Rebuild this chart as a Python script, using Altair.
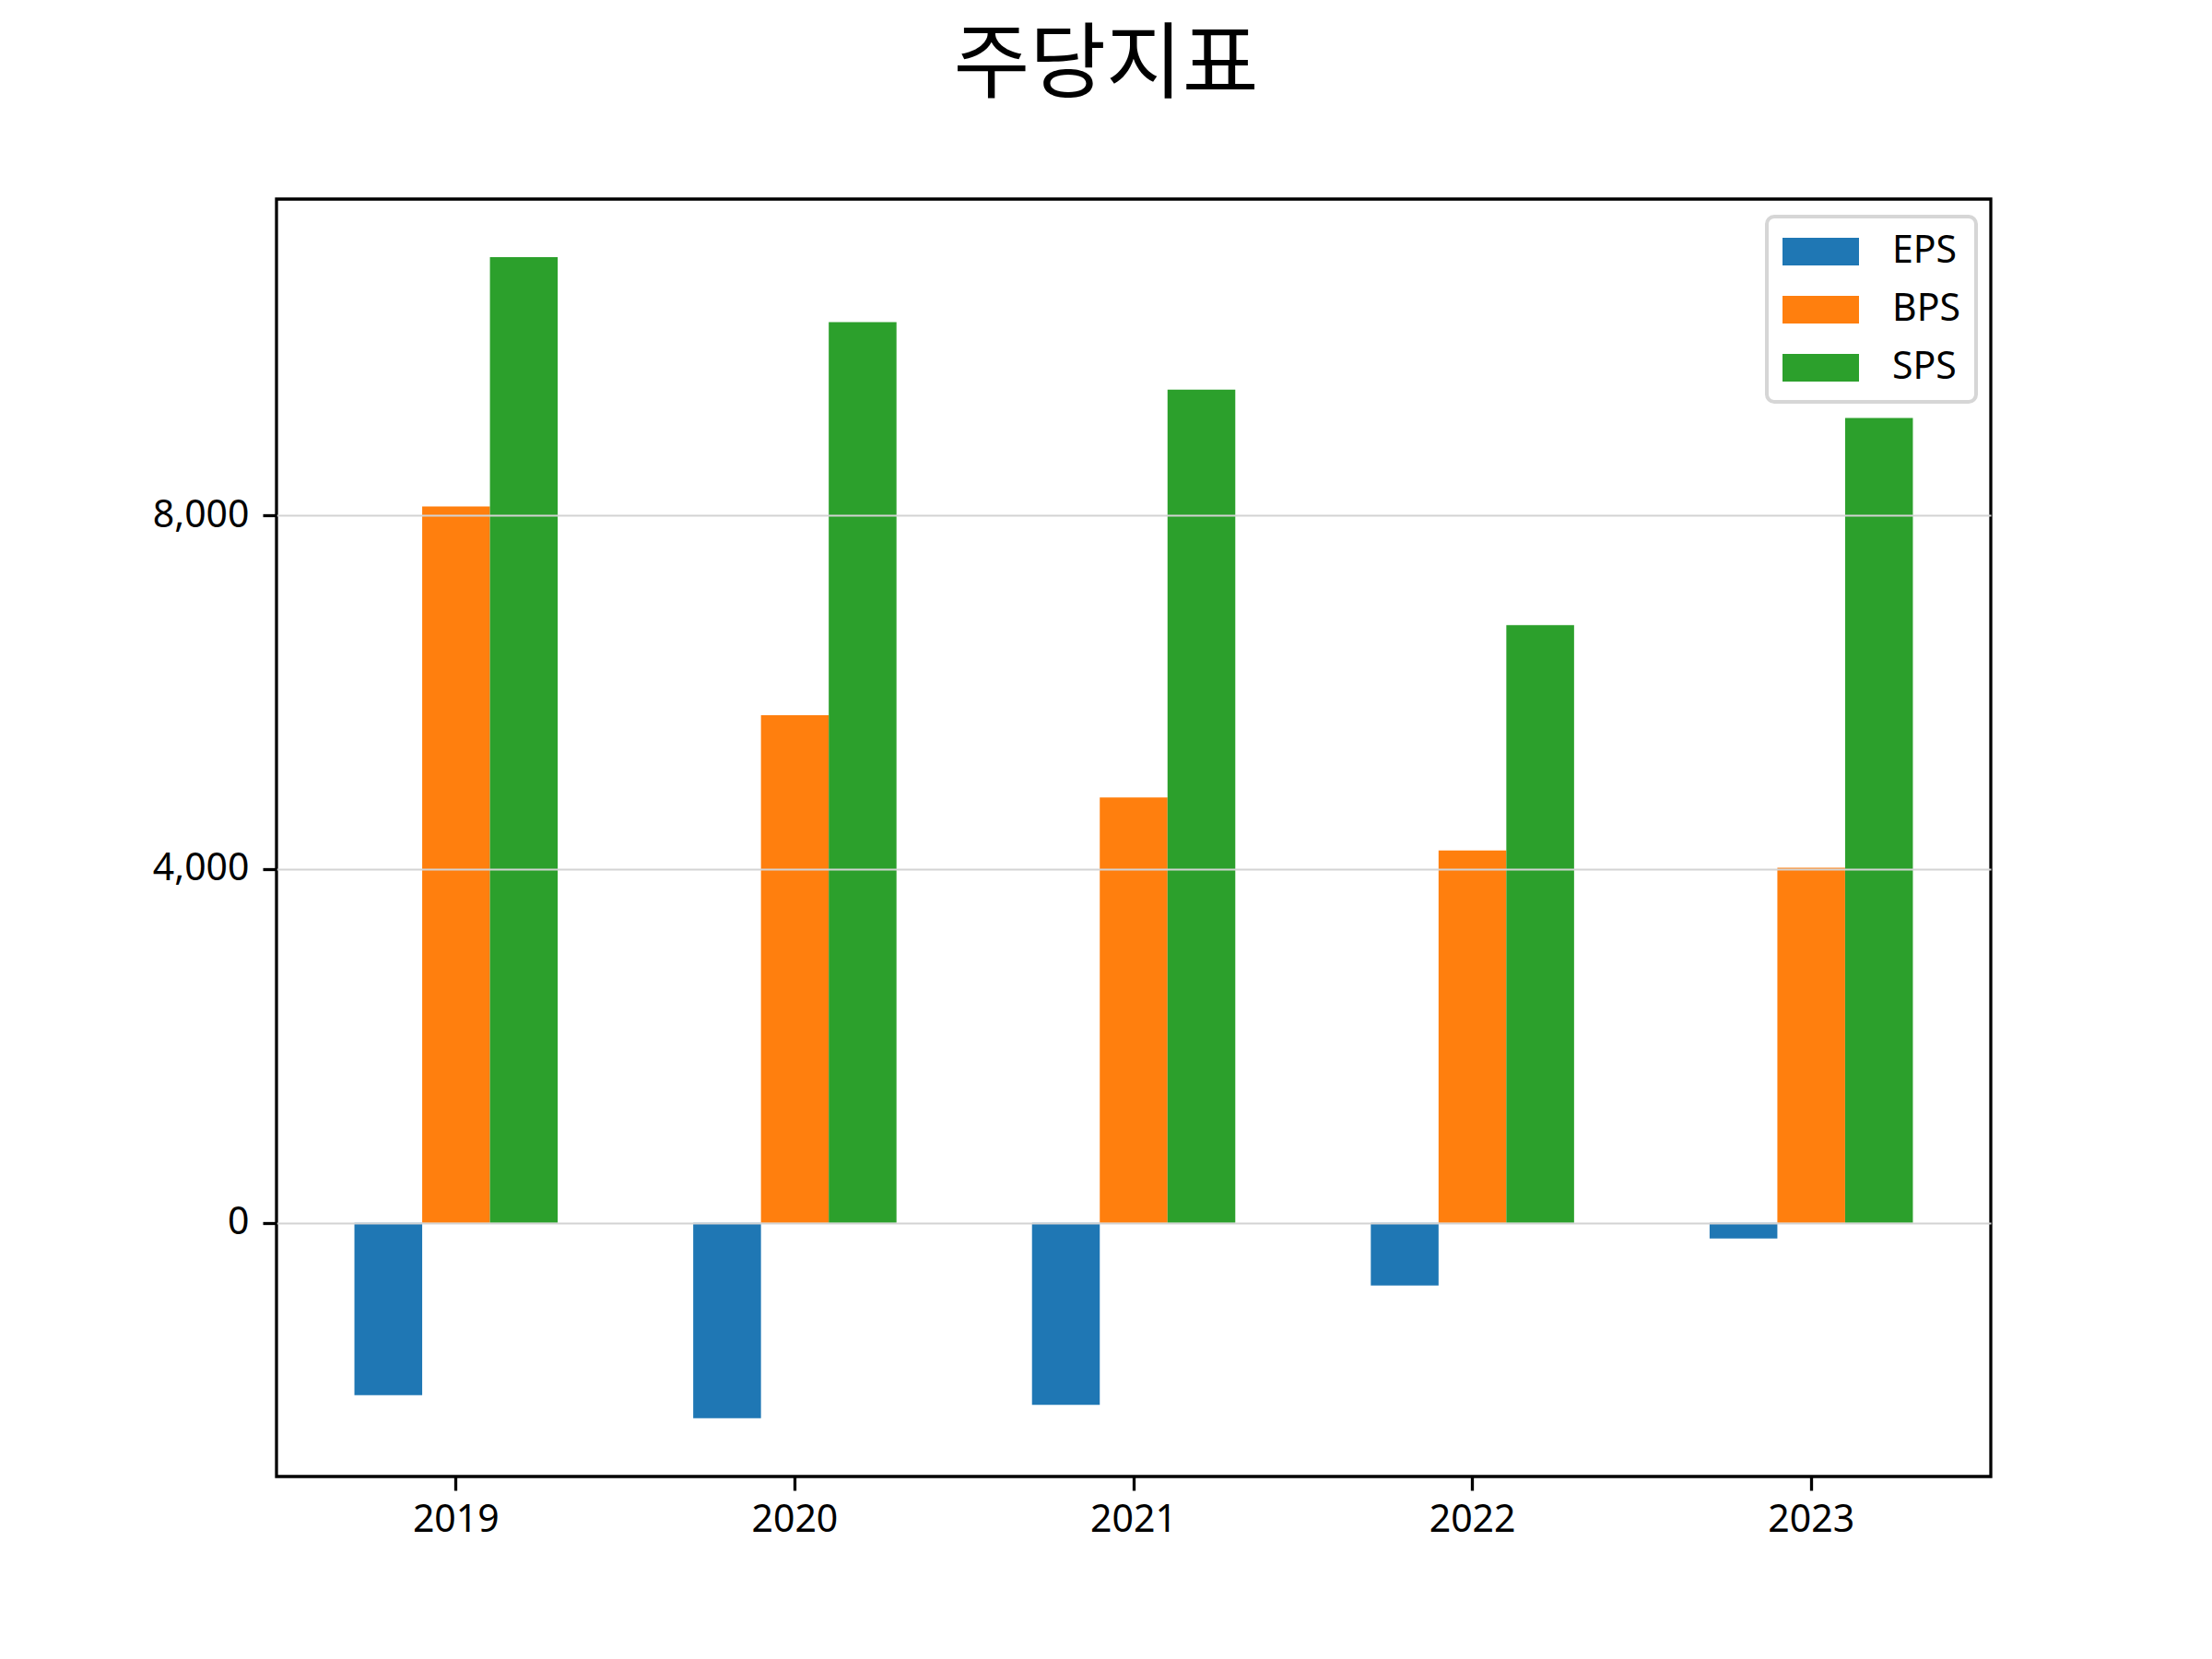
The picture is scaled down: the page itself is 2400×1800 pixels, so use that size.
import altair as alt
import pandas as pd

years = ["2019", "2020", "2021", "2022", "2023"]
series = ["EPS", "BPS", "SPS"]
eps = [-1950, -2210, -2060, -710, -177]
bps = [8100, 5740, 4810, 4210, 4015]
sps = [10918, 10185, 9420, 6757, 9100]
colors = ["#1f77b4", "#ff7f0e", "#2ca02c"]
y_ticks = [0, 4000, 8000]

rows = []
for name, vals in zip(series, [eps, bps, sps]):
    for yr, v in zip(years, vals):
        rows.append({"year": yr, "series": name, "value": v})
df = pd.DataFrame(rows)

swatch = "M-1,-0.714L2.952,-0.714L2.952,0.714L-1,0.714Z"
LATIN = "Noto Sans"
FS = 41

chart = (
    alt.Chart(df)
    .mark_bar()
    .encode(
        x=alt.X(
            "year:N",
            sort=years,
            scale=alt.Scale(paddingInner=0.4, paddingOuter=0.23),
            axis=alt.Axis(
                title=None, labelAngle=0, labelFont=LATIN, labelFontSize=FS,
                labelColor="black", tickColor="black", tickWidth=3.3, tickSize=15,
                labelPadding=12, domain=False, grid=False,
            ),
        ),
        xOffset=alt.XOffset(
            "series:N", sort=series,
            scale=alt.Scale(domain=series, paddingInner=0, paddingOuter=0),
        ),
        y=alt.Y(
            "value:Q",
            stack=None,
            scale=alt.Scale(domain=[-2869, 11575], nice=False, zero=False),
            axis=alt.Axis(
                title=None, values=y_ticks,
                labelExpr="format(datum.value, ',d')",
                labelFont=LATIN, labelFontSize=FS, labelColor="black",
                tickColor="black", tickWidth=3.3, tickSize=15, labelPadding=15,
                domain=False, grid=True, gridColor="#d3d3d3", gridWidth=2,
                zindex=1,
            ),
        ),
        y2=alt.Y2(datum=0),
        color=alt.Color(
            "series:N",
            sort=series,
            scale=alt.Scale(domain=series, range=colors),
            legend=alt.Legend(
                title=None, orient="none", legendX=1617, legendY=19,
                symbolType=swatch, symbolSize=1764, symbolStrokeWidth=0,
                symbolOpacity=1, labelFont=LATIN, labelFontSize=FS,
                labelColor="black", labelOffset=77, rowPadding=22, padding=17,
                strokeColor="#d6d6d6", cornerRadius=8, fillColor="white",
            ),
        ),
    )
    .properties(
        width=1860,
        height=1386,
        autosize=alt.AutoSizeParams(type="none"),
        padding={"left": 292, "top": 208, "right": 232, "bottom": 190},
        title=alt.TitleParams(
            "주당지표", font="Noto Sans CJK KR", fontSize=90, fontWeight="normal",
            color="black", anchor="middle", frame="group", dx=-30, offset=98,
        ),
    )
    .configure_view(stroke="black", strokeWidth=3.3)
    .configure_legend(strokeWidth=4)
)

chart.save("out.html", embed_options={"renderer": "svg", "actions": False})
